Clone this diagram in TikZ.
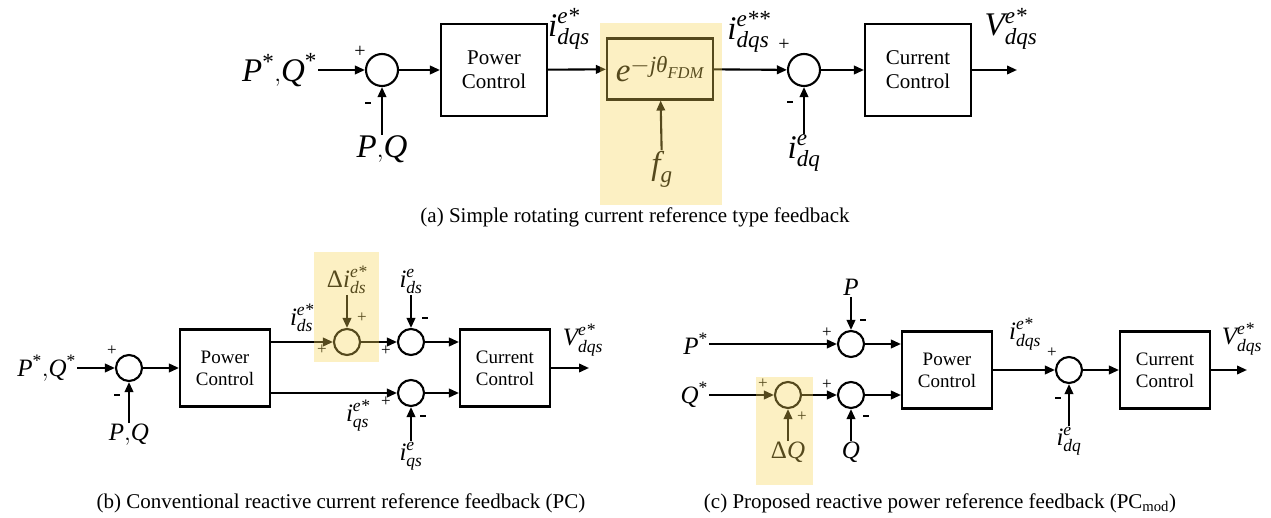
\documentclass[tikz,border=0pt]{standalone}
\usepackage{amsmath}
\usepackage{fontspec}
\setmainfont{Liberation Serif}
\usetikzlibrary{arrows.meta,positioning}
\definecolor{HiYellow}{RGB}{246,212,84}
\newcommand{\sv}[3]{$\textit{#1}^{\textit{#2}}_{\textit{#3}}$}
\newcommand{\negsign}{\rule[0.25em]{0.3em}{0.1em}}

\begin{document}
\begin{tikzpicture}[
  x=1pt, y=-1pt, line width=2.1pt,
  block/.style={draw, rectangle, align=center, inner sep=0pt},
  blockA/.style={block, minimum width=106pt, minimum height=92pt, font=\fontsize{21}{24}\selectfont},
  blockB/.style={block, minimum width=90pt, minimum height=77pt, font=\fontsize{19}{22}\selectfont},
  sumA/.style={draw, circle, minimum size=32pt, inner sep=0pt},
  sumB/.style={draw, circle, minimum size=26pt, inner sep=0pt},
  lblA/.style={inner sep=0pt, font=\fontsize{33}{35}\selectfont},
  lblB/.style={inner sep=0pt, font=\fontsize{25}{28}\selectfont},
  signA/.style={inner sep=0pt, font=\fontsize{20}{20}\selectfont},
  signB/.style={inner sep=0pt, font=\fontsize{17}{17}\selectfont},
  arrow/.style={-{Triangle[length=10pt,width=8.5pt]}},
  caption/.style={inner sep=0pt, font=\fontsize{21}{24}\selectfont},
  hilite/.style={fill=HiYellow, fill opacity=0.35, draw=none}
]
\useasboundingbox (0,0) rectangle (1271,518);

% (a) simple rotating current reference
\node[lblA, anchor=east] (pqrefa) at (318,70) {$\textit{P}^{\textrm{*}}{,}\textit{Q}^{\textrm{*}}$};
\node[sumA] (suma) at (382,70) {};
\node[signA] (pla) at (360,52) {+};
\node[signA] (mia) at (368,106) {\negsign};
\node[lblA, anchor=north] (pqa) at (382,135) {$\textit{P}{,}\textit{Q}$};
\node[blockA] (pca) at (494,70) {Power\\Control};
\node[lblA] (irefa) at (569,29) {\sv{i}{e*}{dqs}};
\node[block, minimum width=106pt, minimum height=61pt, font=\fontsize{33}{35}\selectfont] (rot) at (660,69) {$\textit{e}^{-\textit{jθ}_{\textit{FDM}}}$};
\node[lblA, anchor=north] (fg) at (662,150) {$\textit{f}_{\textit{g}}$};
\node[sumA] (sumb) at (804,70) {};
\node[lblA] (irotb) at (749,32) {\sv{i}{e**}{dqs}};
\node[signA] (plb) at (784,45) {+};
\node[signA] (mib) at (790,105) {\negsign};
\node[lblA, anchor=north] (idqa) at (804,134) {\sv{i}{e}{dq}};
\node[blockA] (cca) at (918,70) {Current\\Control};
\coordinate (outa) at (1017,70);
\node[lblA] (vrefa) at (1011,29) {\sv{V}{e*}{dqs}};

\draw[arrow] (pqrefa) -- (suma);
\draw[arrow] (pqa) -- (suma);
\draw[arrow] (suma) -- (pca);
\draw[arrow] (pca) -- (rot);
\draw[arrow] (fg) -- (rot);
\draw[arrow] (rot) -- (sumb);
\draw[arrow] (idqa) -- (sumb);
\draw[arrow] (sumb) -- (cca);
\draw[arrow] (cca) -- (outa);
\fill[hilite] (600,23) rectangle (722,205);

\node[caption] (capa) at (635,217) {(a) Simple rotating current reference type feedback};

% (b) conventional reactive current reference feedback
\node[lblB, anchor=east] (pqrefb) at (77,368) {$\textit{P}^{\textrm{*}}{,}\textit{Q}^{\textrm{*}}$};
\node[sumB] (sumc) at (129,368) {};
\node[signB] (plc) at (112,351) {+};
\node[signB] (mic) at (117,397) {\negsign};
\node[lblB, anchor=north] (pqb) at (129,423) {$\textit{P}{,}\textit{Q}$};
\node[blockB] (pcb) at (225,368) {Power\\Control};
\node[sumB] (sumd) at (347,342) {};
\node[lblB] (idsref) at (302,318) {\sv{i}{e*}{ds}};
\node[signB] (pld) at (322,350) {+};
\node[signB] (pld2) at (362,318) {+};
\node[lblB, anchor=south] (dids) at (347,295) {$\textrm{Δ}\textit{i}^{\textit{e*}}_{\textit{ds}}$};
\node[sumB] (sume) at (411,342) {};
\node[signB] (ple) at (386,351) {+};
\node[signB] (mie) at (425,320) {\negsign};
\node[lblB, anchor=south] (ids) at (411,295) {\sv{i}{e}{ds}};
\node[sumB] (sumf) at (411,393) {};
\node[signB] (plf) at (386,402) {+};
\node[signB] (mif) at (423,418) {\negsign};
\node[lblB] (iqsref) at (358,416) {\sv{i}{e*}{qs}};
\node[lblB, anchor=north] (iqs) at (411,441) {\sv{i}{e}{qs}};
\node[blockB] (ccb) at (505,368) {Current\\Control};
\coordinate (outb) at (589,368);
\node[lblB] (vrefb) at (583,340) {\sv{V}{e*}{dqs}};

\draw[arrow] (pqrefb) -- (sumc);
\draw[arrow] (pqb) -- (sumc);
\draw[arrow] (sumc) -- (pcb);
\draw[arrow] (pcb.east |- sumd) -- (sumd);
\draw[arrow] (dids) -- (sumd);
\draw[arrow] (sumd) -- (sume);
\draw[arrow] (ids) -- (sume);
\draw[arrow] (pcb.east |- sumf) -- (sumf);
\draw[arrow] (iqs) -- (sumf);
\draw[arrow] (sume) -- (ccb.west |- sume);
\draw[arrow] (sumf) -- (ccb.west |- sumf);
\draw[arrow] (ccb) -- (outb);
\fill[hilite] (314,252) rectangle (379,362);

\node[caption] (capb) at (341,503) {(b) Conventional reactive current reference feedback (PC)};

% (c) proposed reactive power reference feedback
\node[lblB, anchor=east] (pref) at (709,344) {$\textit{P}^{\textrm{*}}$};
\node[lblB, anchor=east] (qref) at (709,395) {$\textit{Q}^{\textrm{*}}$};
\node[sumB] (sumg) at (851,344) {};
\node[signB] (plg) at (827,333) {+};
\node[signB] (mig) at (863,322) {\negsign};
\node[lblB, anchor=south] (pc) at (851,297) {$\textit{P}$};
\node[sumB] (sumq) at (788,395) {};
\node[signB] (plq) at (763,384) {+};
\node[signB] (plq2) at (802,417) {+};
\node[lblB, anchor=north] (dq) at (788,441) {$\textrm{Δ}\textit{Q}$};
\node[sumB] (sumh) at (851,395) {};
\node[signB] (plh) at (827,385) {+};
\node[signB] (mih) at (866,418) {\negsign};
\node[lblB, anchor=north] (qc) at (851,441) {$\textit{Q}$};
\node[blockB] (pcc) at (947,370) {Power\\Control};
\node[sumB] (sumi) at (1069,370) {};
\node[lblB] (irefc) at (1025,334) {\sv{i}{e*}{dqs}};
\node[signB] (pli) at (1052,353) {+};
\node[signB] (mii) at (1058,400) {\negsign};
\node[lblB, anchor=north] (idqc) at (1069,426) {\sv{i}{e}{dq}};
\node[blockB] (ccc) at (1165,370) {Current\\Control};
\coordinate (outc) at (1247,370);
\node[lblB] (vrefc) at (1242,339) {\sv{V}{e*}{dqs}};

\draw[arrow] (pref) -- (sumg);
\draw[arrow] (pc) -- (sumg);
\draw[arrow] (qref) -- (sumq);
\draw[arrow] (dq) -- (sumq);
\draw[arrow] (sumq) -- (sumh);
\draw[arrow] (qc) -- (sumh);
\draw[arrow] (sumg) -- (pcc.west |- sumg);
\draw[arrow] (sumh) -- (pcc.west |- sumh);
\draw[arrow] (pcc) -- (sumi);
\draw[arrow] (idqc) -- (sumi);
\draw[arrow] (sumi) -- (ccc);
\draw[arrow] (ccc) -- (outc);
\fill[hilite] (756,377) rectangle (813,485);

\node[caption] (capc) at (940,503) {(c) Proposed reactive power reference feedback (PC\textsubscript{mod})};
\end{tikzpicture}
\end{document}
